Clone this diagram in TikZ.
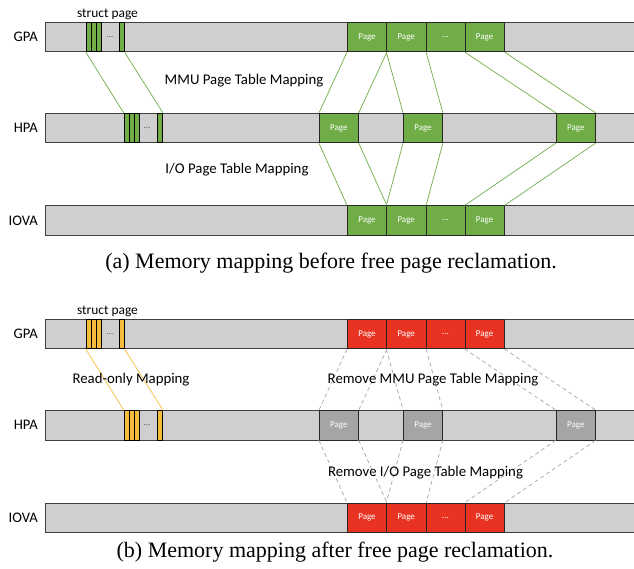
\documentclass[tikz,border=0pt]{standalone}
\usepackage{fontspec}
\setmainfont{Carlito}
\newfontfamily\capfont{Liberation Serif}

\definecolor{barfill}{HTML}{D0CECE}
\definecolor{baredge}{HTML}{404040}
\definecolor{pagegreen}{HTML}{70AD47}
\definecolor{pagered}{HTML}{E83323}
\definecolor{pagegray}{HTML}{A5A5A5}
\definecolor{structyellow}{HTML}{F5BC3C}
\definecolor{dashgray}{HTML}{A6A6A6}

\tikzset{
    bar/.style={draw=baredge, fill=barfill, line width=0.8pt},
    page/.style={draw=black!85, line width=0.6pt, minimum width=39.2pt,
        minimum height=29.5pt, inner sep=0pt, text=white,
        font=\fontsize{9}{10}\selectfont},
    slot/.style={draw=black, line width=0.6pt, minimum width=4.9pt,
        minimum height=29.5pt, inner sep=0pt},
    dotmark/.style={text=black!65, inner sep=0pt, font=\fontsize{9}{10}\selectfont},
    rowlabel/.style={anchor=east, inner sep=0pt, font=\fontsize{14.6}{16}\selectfont},
    maplabel/.style={inner sep=0pt, font=\fontsize{14.8}{16}\selectfont},
    mapline/.style={line width=0.7pt},
    caption/.style={inner sep=0pt, font=\capfont\fontsize{22}{24}\selectfont}
}

\begin{document}
\begin{tikzpicture}[x=1pt, y=-1pt]
    \useasboundingbox (0,0) rectangle (634,569);
    \clip (0,0) rectangle (634,569);

    % ---------- (a) before reclamation ----------
    \foreach \y/\name in {37/GPA, 128/HPA, 220.5/IOVA} {
        \draw[bar] (45,\y-14.75) rectangle (640,\y+14.75);
        \node[rowlabel] (a-\name) at (38,\y) {\name};
    }

    % struct page stripes
    \node[maplabel, font=\fontsize{13.4}{15}\selectfont] (structa) at (107.5,14.5) {struct page};
    \foreach \x [count=\i] in {88.5, 93.5, 98.5, 121.8}
        \node[slot, fill=pagegreen] (gsa\i) at (\x,37) {};
    \foreach \x [count=\i] in {126.5, 131.5, 136.5, 160.2}
        \node[slot, fill=pagegreen] (hsa\i) at (\x,128) {};
    \node[dotmark] (gdota) at (110,37) {...};
    \node[dotmark] (hdota) at (147,128) {...};

    % pages
    \foreach \x/\t [count=\i] in {367/Page, 406.2/Page, 445.4/\ldots, 484.6/Page} {
        \node[page, fill=pagegreen] (ga\i) at (\x,37) {\t};
        \node[page, fill=pagegreen] (ia\i) at (\x,220.5) {\t};
    }
    \foreach \x [count=\i] in {338.8, 423, 575.8}
        \node[page, fill=pagegreen] (ha\i) at (\x,128) {Page};

    % mappings
    \draw[mapline, pagegreen] (gsa1.south west) -- (hsa1.north west);
    \draw[mapline, pagegreen] (gsa4.south east) -- (hsa4.north east);
    \foreach \g/\h in {1/1, 2/2, 4/3} {
        \draw[mapline, pagegreen] (ga\g.south west) -- (ha\h.north west);
        \draw[mapline, pagegreen] (ga\g.south east) -- (ha\h.north east);
        \draw[mapline, pagegreen] (ha\h.south west) -- (ia\g.north west);
        \draw[mapline, pagegreen] (ha\h.south east) -- (ia\g.north east);
    }
    \node[maplabel] (mmua) at (244,80.7) {MMU Page Table Mapping};
    \node[maplabel] (ioa) at (237,170) {I/O Page Table Mapping};

    \node[caption] (capa) at (331,263) {(a) Memory mapping before free page reclamation.};

    % ---------- (b) after reclamation ----------
    \foreach \y/\name in {334/GPA, 425.2/HPA, 517.8/IOVA} {
        \draw[bar] (45,\y-14.75) rectangle (640,\y+14.75);
        \node[rowlabel] (b-\name) at (38,\y) {\name};
    }

    \node[maplabel, font=\fontsize{13.4}{15}\selectfont] (structb) at (107.5,311.7) {struct page};
    \foreach \x [count=\i] in {88.5, 93.5, 98.5, 121.8}
        \node[slot, fill=structyellow] (gsb\i) at (\x,334) {};
    \foreach \x [count=\i] in {126.5, 131.5, 136.5, 160.2}
        \node[slot, fill=structyellow] (hsb\i) at (\x,425.2) {};
    \node[dotmark] (gdotb) at (110,334) {...};
    \node[dotmark] (hdotb) at (147,425.2) {...};

    \foreach \x/\t [count=\i] in {367/Page, 406.2/Page, 445.4/\ldots, 484.6/Page} {
        \node[page, fill=pagered] (gb\i) at (\x,334) {\t};
        \node[page, fill=pagered] (ib\i) at (\x,517.8) {\t};
    }
    \foreach \x [count=\i] in {338.8, 423, 575.8}
        \node[page, fill=pagegray] (hb\i) at (\x,425.2) {Page};

    \draw[mapline, structyellow] (gsb1.south west) -- (hsb1.north west);
    \draw[mapline, structyellow] (gsb4.south east) -- (hsb4.north east);
    \foreach \g/\h in {1/1, 2/2, 4/3} {
        \draw[mapline, dashgray, dash pattern=on 4pt off 3pt] (gb\g.south west) -- (hb\h.north west);
        \draw[mapline, dashgray, dash pattern=on 4pt off 3pt] (gb\g.south east) -- (hb\h.north east);
        \draw[mapline, dashgray, dash pattern=on 4pt off 3pt] (hb\h.south west) -- (ib\g.north west);
        \draw[mapline, dashgray, dash pattern=on 4pt off 3pt] (hb\h.south east) -- (ib\g.north east);
    }
    \node[maplabel] (rob) at (131,380) {Read-only Mapping};
    \node[maplabel] (mmub) at (433,380) {Remove MMU Page Table Mapping};
    \node[maplabel] (iob) at (425.5,472.7) {Remove I/O Page Table Mapping};

    \node[caption] (capb) at (335,552) {(b) Memory mapping after free page reclamation.};
\end{tikzpicture}
\end{document}
